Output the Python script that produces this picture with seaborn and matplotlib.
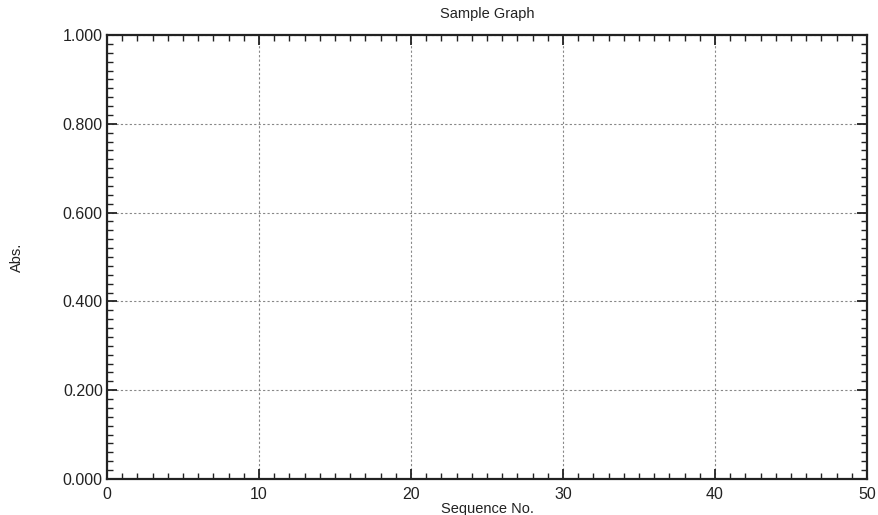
import matplotlib
matplotlib.use("Agg")
import matplotlib.pyplot as plt
import seaborn as sns
import pandas as pd
from matplotlib.ticker import MultipleLocator

# Data (the sample graph contains no measurements)
sequence_no = []
absorbance = []
x_ticks = [0, 10, 20, 30, 40, 50]
y_ticks = [0.0, 0.2, 0.4, 0.6, 0.8, 1.0]
y_tick_labels = ["0.000", "0.200", "0.400", "0.600", "0.800", "1.000"]

sns.set_style("white")
plt.rcParams['font.family'] = ['Liberation Sans', 'DejaVu Sans']

W, H = 879, 515
left, right, top, bottom = 107, 867, 35, 479
fig = plt.figure(figsize=(W / 100, H / 100), dpi=100)
ax = fig.add_axes([left / W, 1 - bottom / H, (right - left) / W, (bottom - top) / H])

df = pd.DataFrame({"Sequence No.": pd.Series(sequence_no, dtype=float),
                   "Abs.": pd.Series(absorbance, dtype=float)})
sns.lineplot(data=df, x="Sequence No.", y="Abs.", ax=ax, color="black")

ax.set_xlim(x_ticks[0], x_ticks[-1])
ax.set_ylim(y_ticks[0], y_ticks[-1])
ax.set_xticks(x_ticks)
ax.set_xticklabels([str(t) for t in x_ticks])
ax.set_yticks(y_ticks)
ax.set_yticklabels(y_tick_labels)
ax.xaxis.set_minor_locator(MultipleLocator(1))
ax.yaxis.set_minor_locator(MultipleLocator(0.02))

ax.tick_params(which="both", direction="in", top=True, right=True, bottom=True, left=True,
               color="#222222")
ax.tick_params(which="major", length=7, width=1.3, labelsize=11.5, pad=3, colors="#222222")
ax.tick_params(axis="x", which="major", pad=6)
ax.tick_params(which="minor", length=4, width=1.0)

ax.grid(True, which="major", linestyle=(0, (2, 2)), color="#888888", linewidth=0.8)
for s in ax.spines.values():
    s.set_visible(True)
    s.set_linewidth(1.6)
    s.set_color("#222222")

ax.set_title("Sample Graph", fontsize=10.5, pad=12, color="#222222")
ax.set_xlabel("Sequence No.", fontsize=10.5, labelpad=0, color="#222222")
ax.set_ylabel("Abs.", fontsize=10.5, color="#222222")
ax.yaxis.set_label_coords(-0.109, 0.5)

fig.savefig("out.png", dpi=100)
